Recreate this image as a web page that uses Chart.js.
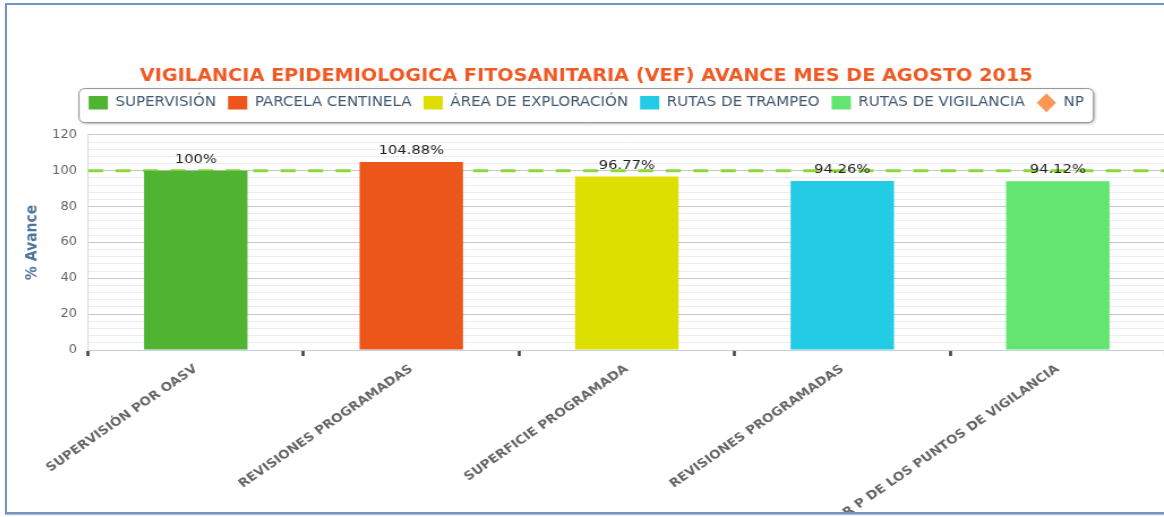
<!DOCTYPE html>
<html lang="es">
<head>
<meta charset="utf-8">
<title>VEF avance agosto 2015</title>
<script src="https://cdn.jsdelivr.net/npm/chart.js@4.4.1/dist/chart.umd.min.js"></script>
<style>
  html, body { margin: 0; padding: 0; background: #fff; overflow: hidden; }
  .frame {
    position: absolute; left: 5px; top: 3px; width: 1200px; height: 507px;
    border: 2px solid #7195c5; border-right: none;
    box-shadow: 0 1px 1px #bbb; overflow: hidden;
  }
  /* the original capture is stretched sideways, so is this one */
  .frame canvas {
    position: absolute; left: 0; top: 1px;
    width: 1166px !important; height: 506px !important;
  }
</style>
</head>
<body>
<div class="frame">
  <canvas id="vef" width="1030" height="506"></canvas>
</div>
<script>
const categories = [
  'SUPERVISIÓN POR OASV',
  'REVISIONES PROGRAMADAS',
  'SUPERFICIE PROGRAMADA',
  'REVISIONES PROGRAMADAS',
  'REVISIONES POR P DE LOS PUNTOS DE VIGILANCIA'
];
const seriesNames = ['SUPERVISIÓN', 'PARCELA CENTINELA', 'ÁREA DE EXPLORACIÓN', 'RUTAS DE TRAMPEO', 'RUTAS DE VIGILANCIA'];
const avance = [100, 104.88, 96.77, 94.26, 94.12];
const seriesColors = ['#50B432', '#ED561B', '#DDDF00', '#24CBE5', '#64E572'];
const npName = 'NP';
const npColor = '#FF9655';
const meta = 100;
const yTicks = [0, 20, 40, 60, 80, 100, 120];

const font = '"DejaVu Sans", Verdana, sans-serif';

const datasets = seriesNames.map((name, i) => ({
  type: 'bar',
  label: name,
  data: avance.map((v, j) => (j === i ? v : null)),
  backgroundColor: seriesColors[i],
  borderWidth: 0
}));
datasets.push({
  type: 'line',
  label: npName,
  data: categories.map(() => null),
  backgroundColor: npColor,
  borderColor: npColor,
  pointStyle: 'rectRot',
  showLine: false
});

// legend gets a bit of air below it, like the original
const legendSpace = {
  id: 'legendSpace',
  beforeLayout(chart) {
    const lg = chart.legend;
    if (lg && !lg._spaced) {
      const fit = lg.fit;
      lg.fit = function () {
        fit.call(this);
        this.height += 15.5;
      };
      lg._spaced = true;
    }
  }
};

const legendBox = {
  id: 'legendBox',
  beforeDraw(chart) {
    const hb = chart.legend && chart.legend.legendHitBoxes;
    if (!hb || !hb.length) return;
    const ctx = chart.ctx;
    const left = Math.min(...hb.map(b => b.left)) - 9;
    const right = Math.max(...hb.map(b => b.left + b.width)) + 8;
    const top = hb[0].top - 8;
    const h = 34;
    ctx.save();
    ctx.shadowColor = 'rgba(0,0,0,0.35)';
    ctx.shadowBlur = 3;
    ctx.shadowOffsetX = 1;
    ctx.shadowOffsetY = 1;
    ctx.beginPath();
    ctx.roundRect(left + 0.5, top + 0.5, right - left, h, 5);
    ctx.fillStyle = '#fff';
    ctx.fill();
    ctx.shadowColor = 'transparent';
    ctx.strokeStyle = '#909090';
    ctx.lineWidth = 1;
    ctx.stroke();
    ctx.restore();
  }
};

const targetLine = {
  id: 'targetLine',
  beforeDatasetsDraw(chart) {
    const { ctx, chartArea, scales } = chart;
    const y = scales.y.getPixelForValue(meta);
    ctx.save();
    ctx.strokeStyle = '#8CD83A';
    ctx.lineWidth = 3;
    ctx.setLineDash([13.25, 11.05]);
    ctx.beginPath();
    ctx.moveTo(chartArea.left, y);
    ctx.lineTo(chartArea.right, y);
    ctx.stroke();
    ctx.restore();
  }
};

const barLabels = {
  id: 'barLabels',
  afterDatasetsDraw(chart) {
    const ctx = chart.ctx;
    ctx.save();
    ctx.font = '13px ' + font;
    ctx.fillStyle = '#222';
    ctx.textAlign = 'center';
    ctx.textBaseline = 'alphabetic';
    chart.data.datasets.forEach((ds, i) => {
      if (ds.type !== 'bar') return;
      chart.getDatasetMeta(i).data.forEach((bar, j) => {
        const v = ds.data[j];
        if (v == null) return;
        ctx.fillText(v + '%', bar.x, bar.y - 8);
      });
    });
    ctx.restore();
  }
};

new Chart(document.getElementById('vef'), {
  data: { labels: categories, datasets },
  options: {
    responsive: false,
    animation: false,
    skipNull: true,
    layout: { padding: { top: 0, right: 6.6, bottom: 0, left: 0 } },
    datasets: {
      bar: { barPercentage: 0.48, categoryPercentage: 1 }
    },
    plugins: {
      title: {
        display: true,
        text: 'VIGILANCIA EPIDEMIOLOGICA FITOSANITARIA (VEF) AVANCE MES DE AGOSTO 2015',
        color: '#EF5A24',
        font: { family: font, size: 17, weight: 'bold', lineHeight: 1 },
        padding: { top: 62.5, bottom: 0 }
      },
      legend: {
        labels: {
          usePointStyle: true,
          pointStyleWidth: 17,
          boxHeight: 14,
          padding: 10.6,
          color: '#3E576F',
          font: { family: font, size: 13.3 },
          generateLabels(chart) {
            return chart.data.datasets.map((ds, i) => ({
              text: ds.label,
              fillStyle: ds.backgroundColor,
              strokeStyle: ds.backgroundColor,
              fontColor: '#3E576F',
              lineWidth: 0,
              pointStyle: ds.type === 'line' ? 'rectRot' : 'rect',
              hidden: false,
              datasetIndex: i
            }));
          }
        },
        onClick() {}
      },
      tooltip: { enabled: false }
    },
    scales: {
      x: {
        afterFit(scale) { scale.height = 162; },
        grid: {
          display: true,
          offset: true,
          drawOnChartArea: false,
          drawTicks: true,
          tickLength: 6,
          tickWidth: 2.6,
          tickColor: '#444'
        },
        border: { color: '#C0D0E0', width: 1 },
        ticks: {
          autoSkip: false,
          minRotation: 38,
          maxRotation: 38,
          padding: 6,
          color: '#666',
          font: { family: font, size: 12, weight: 'bold' }
        }
      },
      y: {
        min: 0,
        max: 120,
        afterFit(scale) { scale.width = 71.6; },
        afterBuildTicks(scale) {
          const t = [];
          for (let v = 0; v <= 120; v += 4) t.push({ value: v });
          scale.ticks = t;
        },
        grid: {
          drawTicks: false,
          color(c) { return yTicks.includes(c.tick.value) ? '#C8C8C8' : '#EDEDED'; }
        },
        border: { color: '#DADADA' },
        ticks: {
          autoSkip: false,
          padding: 9.8,
          color: '#666',
          font: { family: font, size: 11.5 },
          callback(v) { return yTicks.includes(v) ? String(v) : ''; }
        },
        title: {
          display: true,
          text: '% Avance',
          color: '#4D759E',
          font: { family: font, size: 14, weight: 'bold' },
          padding: { top: 13.6, bottom: 0 }
        }
      }
    }
  },
  plugins: [legendSpace, legendBox, targetLine, barLabels]
});
</script>
</body>
</html>
